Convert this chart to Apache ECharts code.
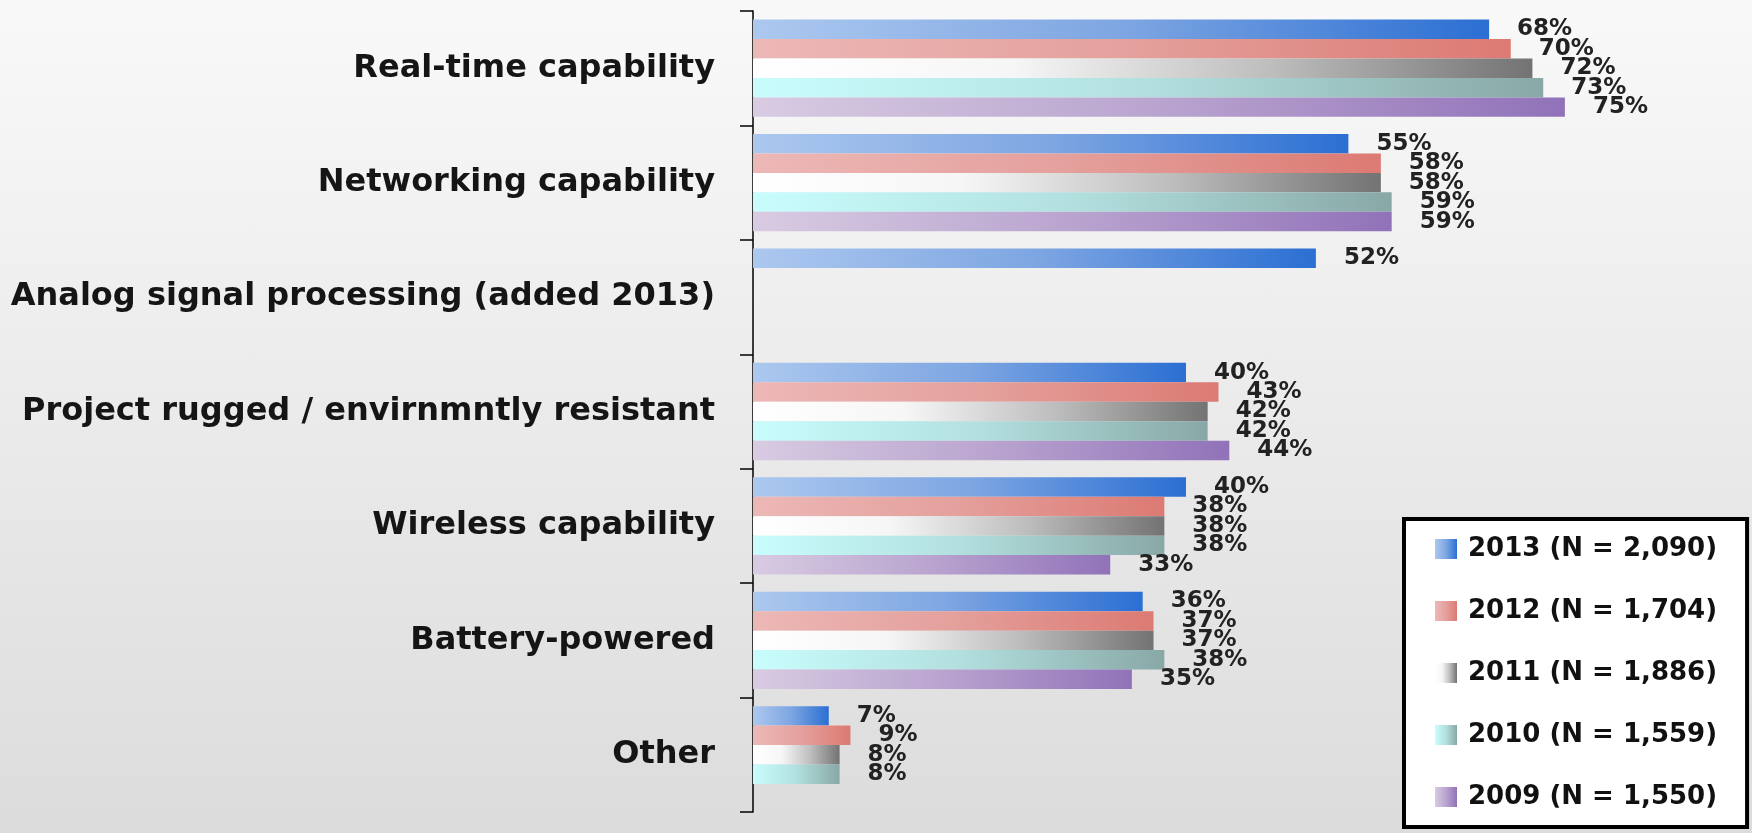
<!DOCTYPE html>
<html>
<head>
<meta charset="utf-8">
<title>Project features</title>
<script src="https://cdn.jsdelivr.net/npm/echarts@6/dist/echarts.min.js"></script>
<style>
    html, body { margin: 0; padding: 0; }
    body { background: linear-gradient(to bottom, #f9f9f9 0%, #dcdcdc 100%); }
    #main { width: 1752px; height: 833px; }
</style>
</head>
<body>
<div id="main"></div>
<script>
// 分类（从上到下）
var categories = [
    "Real-time capability",
    "Networking capability",
    "Analog signal processing (added 2013)",
    "Project rugged / envirnmntly resistant",
    "Wireless capability",
    "Battery-powered",
    "Other"
];

// 各年份数据（%），null = 当年没有该项
var y2013 = [68, 55, 52, 40, 40, 36, 7];
var y2012 = [70, 58, null, 43, 38, 37, 9];
var y2011 = [72, 58, null, 42, 38, 37, 8];
var y2010 = [73, 59, null, 42, 38, 38, 8];
var y2009 = [75, 59, null, 44, 33, 35, null];

// 图例名称
var names = [
    "2013 (N = 2,090)",
    "2012 (N = 1,704)",
    "2011 (N = 1,886)",
    "2010 (N = 1,559)",
    "2009 (N = 1,550)"
];

(function() {
    var font = "DejaVu Sans";

    // 横向渐变：左浅右深
    function grad(stops) {
        return new echarts.graphic.LinearGradient(0, 0, 1, 0, stops.map(function(c, i) {
            return { offset: i / (stops.length - 1), color: c };
        }));
    }

    var colors = [
        grad(["#acc8ef", "#7ea6e2", "#2b6fd3"]),
        grad(["#ecb8b6", "#e4a09c", "#dc7a73"]),
        grad(["#ffffff", "#f6f6f6", "#bdbdbd", "#737373"]),
        grad(["#c9fdfd", "#b2e0df", "#88a8a6"]),
        grad(["#d8cbe2", "#b9a4cf", "#9172b9"])
    ];

    var data = [y2013, y2012, y2011, y2010, y2009];

    var series = data.map(function(arr, i) {
        return {
            name: names[i],
            type: "bar",
            data: arr,
            barGap: "0%",
            barCategoryGap: "15%",
            itemStyle: { color: colors[i] },
            label: {
                show: true,
                position: "right",
                distance: 28,
                formatter: "{c}%",
                fontFamily: font,
                fontWeight: "bold",
                fontSize: 23,
                color: "#222"
            }
        };
    });

    var myChart = echarts.init(document.getElementById("main"));
    var option = {
        backgroundColor: "transparent",
        animation: false,
        grid: {
            left: 753,
            right: 133,
            top: 11,
            bottom: 21
        },
        xAxis: {
            type: "value",
            min: 0,
            max: 80,
            show: false
        },
        yAxis: {
            type: "category",
            inverse: true,
            data: categories,
            axisLine: { lineStyle: { color: "#000", width: 1.5 } },
            axisTick: { show: true, interval: 0, length: 13, lineStyle: { color: "#000", width: 1.5 } },
            axisLabel: {
                interval: 0,
                margin: 38,
                fontFamily: font,
                fontWeight: "bold",
                fontSize: 32,
                color: "#151515"
            }
        },
        legend: {
            orient: "vertical",
            left: 1404,
            top: 519,
            padding: [15, 30, 15, 31],
            itemGap: 32,
            itemWidth: 22,
            itemHeight: 20,
            icon: "rect",
            backgroundColor: "#fff",
            borderColor: "#000",
            borderWidth: 4,
            textStyle: {
                fontFamily: font,
                fontWeight: "bold",
                fontSize: 26,
                lineHeight: 30,
                padding: [0, 0, 0, 6],
                color: "#111"
            },
            data: names
        },
        series: series
    };
    myChart.setOption(option);
})();
</script>
</body>
</html>
